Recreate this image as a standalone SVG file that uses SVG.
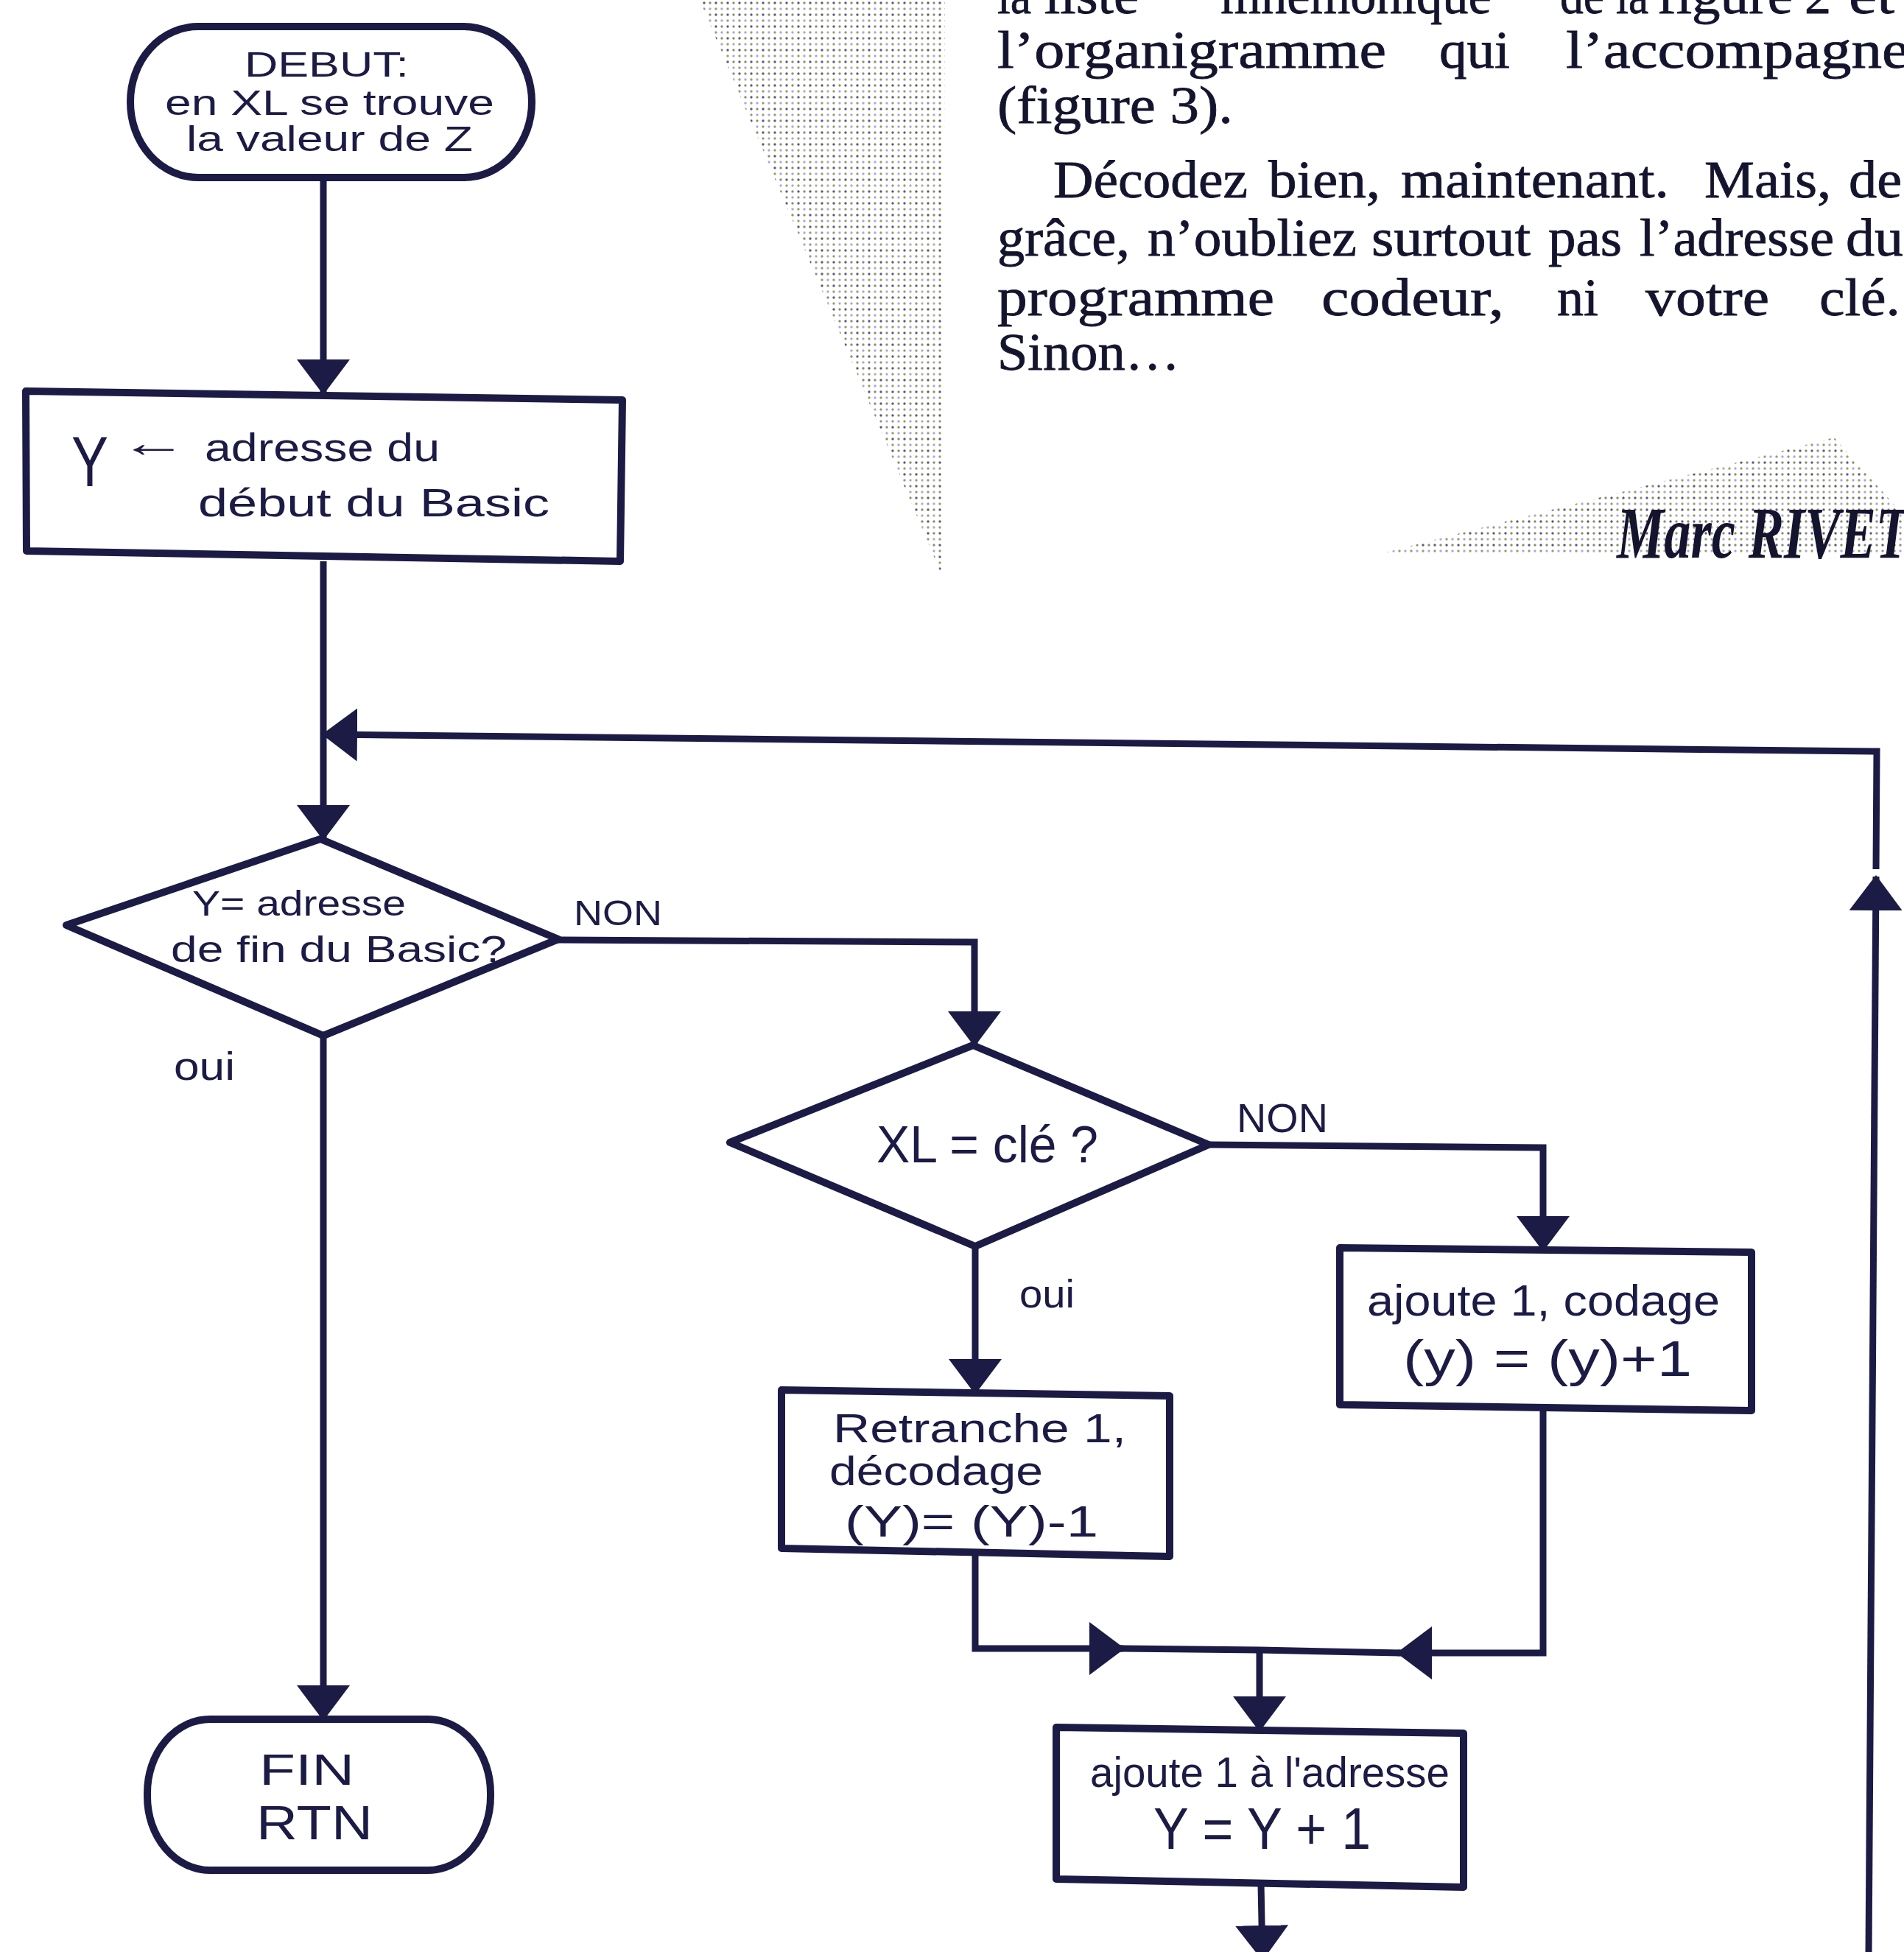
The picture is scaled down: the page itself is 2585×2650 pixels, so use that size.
<svg xmlns="http://www.w3.org/2000/svg" width="2585" height="2650" viewBox="0 0 2585 2650">
<defs>
<style>
.shape{fill:#fff;stroke:#1b1b45;stroke-width:10;stroke-linejoin:round}
.conn{fill:none;stroke:#1b1b45;stroke-width:9;stroke-linejoin:miter}
.hand{font-family:"Liberation Sans","DejaVu Sans",sans-serif;fill:#1b1b45}
.print{font-family:"Liberation Serif","DejaVu Serif",serif;fill:#14142e;font-size:72px;stroke:#14142e;stroke-width:0.8}
.sig{font-family:"Liberation Serif","DejaVu Serif",serif;fill:#14142e;font-size:100px;font-style:italic;font-weight:bold}
</style>
<marker id="ah" viewBox="0 -36 48 72" refX="46" refY="0" markerWidth="48" markerHeight="72" markerUnits="userSpaceOnUse" orient="auto">
<path d="M0,-36 L48,0 L0,36 Z" fill="#1b1b45"/>
</marker>
<pattern id="dots" width="16" height="16" patternUnits="userSpaceOnUse">
<circle cx="4" cy="4" r="1.7" fill="#8f8f62"/>
<circle cx="12" cy="4" r="1.7" fill="#5a5a80"/>
<circle cx="4" cy="12" r="1.7" fill="#a9a9de"/>
<circle cx="12" cy="12" r="1.7" fill="#9c9c6a"/>
</pattern>
</defs>
<rect width="2585" height="2650" fill="#fff"/>

<g id="halftone">
<polygon points="950,0 1283,0 1279,782" fill="url(#dots)"/>
<polygon points="1865,754 2490,594 2585,700 2585,754" fill="url(#dots)"/>
</g>

<g id="article">
<text class="print" x="1354" y="18" textLength="46" lengthAdjust="spacingAndGlyphs">la</text>
<text class="print" x="1418" y="18" textLength="128" lengthAdjust="spacingAndGlyphs">liste</text>
<text class="print" x="1626" y="18" textLength="430" lengthAdjust="spacingAndGlyphs">“mnémonique”</text>
<text class="print" x="2118" y="18" textLength="60" lengthAdjust="spacingAndGlyphs">de</text>
<text class="print" x="2194" y="18" textLength="44" lengthAdjust="spacingAndGlyphs">la</text>
<text class="print" x="2250" y="18" textLength="184" lengthAdjust="spacingAndGlyphs">figure</text>
<text class="print" x="2450" y="18" textLength="36" lengthAdjust="spacingAndGlyphs">2</text>
<text class="print" x="2510" y="18" textLength="62" lengthAdjust="spacingAndGlyphs">et</text>

<text class="print" x="1354" y="92" textLength="528" lengthAdjust="spacingAndGlyphs">l’organigramme</text>
<text class="print" x="1954" y="92" textLength="96" lengthAdjust="spacingAndGlyphs">qui</text>
<text class="print" x="2126" y="92" textLength="466" lengthAdjust="spacingAndGlyphs">l’accompagne</text>

<text class="print" x="1354" y="167" textLength="320" lengthAdjust="spacingAndGlyphs">(figure 3).</text>

<text class="print" x="1430" y="268" textLength="264" lengthAdjust="spacingAndGlyphs">Décodez</text>
<text class="print" x="1722" y="268" textLength="152" lengthAdjust="spacingAndGlyphs">bien,</text>
<text class="print" x="1902" y="268" textLength="364" lengthAdjust="spacingAndGlyphs">maintenant.</text>
<text class="print" x="2314" y="268" textLength="172" lengthAdjust="spacingAndGlyphs">Mais,</text>
<text class="print" x="2510" y="268" textLength="72" lengthAdjust="spacingAndGlyphs">de</text>

<text class="print" x="1354" y="347" textLength="180" lengthAdjust="spacingAndGlyphs">grâce,</text>
<text class="print" x="1558" y="347" textLength="284" lengthAdjust="spacingAndGlyphs">n’oubliez</text>
<text class="print" x="1862" y="347" textLength="216" lengthAdjust="spacingAndGlyphs">surtout</text>
<text class="print" x="2102" y="347" textLength="100" lengthAdjust="spacingAndGlyphs">pas</text>
<text class="print" x="2226" y="347" textLength="264" lengthAdjust="spacingAndGlyphs">l’adresse</text>
<text class="print" x="2506" y="347" textLength="78" lengthAdjust="spacingAndGlyphs">du</text>

<text class="print" x="1354" y="428" textLength="376" lengthAdjust="spacingAndGlyphs">programme</text>
<text class="print" x="1794" y="428" textLength="248" lengthAdjust="spacingAndGlyphs">codeur,</text>
<text class="print" x="2114" y="428" textLength="56" lengthAdjust="spacingAndGlyphs">ni</text>
<text class="print" x="2234" y="428" textLength="168" lengthAdjust="spacingAndGlyphs">votre</text>
<text class="print" x="2470" y="428" textLength="110" lengthAdjust="spacingAndGlyphs">clé.</text>

<text class="print" x="1354" y="502" textLength="248" lengthAdjust="spacingAndGlyphs">Sinon…</text>

<text class="sig" x="2195" y="757" textLength="396" lengthAdjust="spacingAndGlyphs">Marc RIVET</text>
</g>

<g id="connectors">
<path class="conn" d="M439,242 L439,534" marker-end="url(#ah)"/>
<path class="conn" d="M439,762 L439,1139" marker-end="url(#ah)"/>
<path class="conn" d="M2537,2650 L2547,1190" marker-end="url(#ah)"/>
<path class="conn" d="M2547,1180 L2548,1020 L439,997" marker-end="url(#ah)"/>
<path class="conn" d="M439,1406 L439,2334" marker-end="url(#ah)"/>
<path class="conn" d="M758,1276 L1323,1279 L1323,1419" marker-end="url(#ah)"/>
<path class="conn" d="M1324,1692 L1324,1891" marker-end="url(#ah)"/>
<path class="conn" d="M1641,1554 L2095,1558 L2095,1697" marker-end="url(#ah)"/>
<path class="conn" d="M1324,2108 L1324,2238 L1525,2238" marker-end="url(#ah)"/>
<path class="conn" d="M2095,1911 L2095,2244 L1898,2244" marker-end="url(#ah)"/>
<path class="conn" d="M1520,2238 L1710,2240 L1900,2244"/>
<path class="conn" d="M1710,2240 L1710,2349" marker-end="url(#ah)"/>
<path class="conn" d="M1712,2558 L1714,2660" marker-end="url(#ah)"/>
</g>

<g id="n-debut">
<rect class="shape" x="177" y="36" width="545" height="205" rx="92" ry="102"/>
<text class="hand" x="332" y="104" font-size="48" textLength="223" lengthAdjust="spacingAndGlyphs">DEBUT:</text>
<text class="hand" x="224" y="156" font-size="48" textLength="447" lengthAdjust="spacingAndGlyphs">en XL se trouve</text>
<text class="hand" x="253" y="205" font-size="48" textLength="389" lengthAdjust="spacingAndGlyphs">la valeur de Z</text>
</g>

<g id="n-init">
<polygon class="shape" points="35,531 845,543 842,762 36,748"/>
<text class="hand" x="97" y="660" font-size="96" textLength="50" lengthAdjust="spacingAndGlyphs">Y</text>
<text class="hand" x="162" y="620" font-size="56" font-family="DejaVu Sans" textLength="92" lengthAdjust="spacingAndGlyphs">←</text>
<text class="hand" x="278" y="626" font-size="54" textLength="319" lengthAdjust="spacingAndGlyphs">adresse  du</text>
<text class="hand" x="269" y="701" font-size="54" textLength="477" lengthAdjust="spacingAndGlyphs">début du Basic</text>
</g>

<g id="n-test-fin">
<polygon class="shape" points="435,1139 758,1275 439,1406 90,1256"/>
<text class="hand" x="261" y="1243" font-size="48" textLength="290" lengthAdjust="spacingAndGlyphs">Y= adresse</text>
<text class="hand" x="232" y="1306" font-size="50" textLength="456" lengthAdjust="spacingAndGlyphs">de fin du Basic?</text>
<text class="hand" x="779" y="1256" font-size="48" textLength="120" lengthAdjust="spacingAndGlyphs">NON</text>
<text class="hand" x="236" y="1466" font-size="54" textLength="83" lengthAdjust="spacingAndGlyphs">oui</text>
</g>

<g id="n-test-cle">
<polygon class="shape" points="1321,1419 1641,1554 1324,1692 991,1551"/>
<text class="hand" x="1190" y="1578" font-size="70" textLength="301" lengthAdjust="spacingAndGlyphs">XL = clé ?</text>
<text class="hand" x="1679" y="1537" font-size="56" textLength="124" lengthAdjust="spacingAndGlyphs">NON</text>
<text class="hand" x="1384" y="1775" font-size="54" textLength="75" lengthAdjust="spacingAndGlyphs">oui</text>
</g>

<g id="n-codage">
<polygon class="shape" points="1819,1694 2378,1700 2378,1915 1819,1907"/>
<text class="hand" x="1856" y="1786" font-size="60" textLength="479" lengthAdjust="spacingAndGlyphs">ajoute 1, codage</text>
<text class="hand" x="1905" y="1868" font-size="68" textLength="392" lengthAdjust="spacingAndGlyphs">(y) = (y)+1</text>
</g>

<g id="n-decodage">
<polygon class="shape" points="1061,1887 1588,1895 1588,2113 1061,2102"/>
<text class="hand" x="1131" y="1958" font-size="56" textLength="398" lengthAdjust="spacingAndGlyphs">Retranche  1,</text>
<text class="hand" x="1126" y="2016" font-size="56" textLength="290" lengthAdjust="spacingAndGlyphs">décodage</text>
<text class="hand" x="1147" y="2086" font-size="60" textLength="344" lengthAdjust="spacingAndGlyphs">(Y)= (Y)-1</text>
</g>

<g id="n-increment">
<polygon class="shape" points="1434,2345 1987,2353 1987,2562 1434,2551"/>
<text class="hand" x="1480" y="2426" font-size="58" textLength="488" lengthAdjust="spacingAndGlyphs">ajoute 1 à l'adresse</text>
<text class="hand" x="1566" y="2510" font-size="80" textLength="295" lengthAdjust="spacingAndGlyphs">Y = Y + 1</text>
</g>

<g id="n-fin">
<rect class="shape" x="200" y="2334" width="466" height="205" rx="85" ry="100"/>
<text class="hand" x="352" y="2423" font-size="60" textLength="129" lengthAdjust="spacingAndGlyphs">FIN</text>
<text class="hand" x="348" y="2497" font-size="64" textLength="158" lengthAdjust="spacingAndGlyphs">RTN</text>
</g>
</svg>
